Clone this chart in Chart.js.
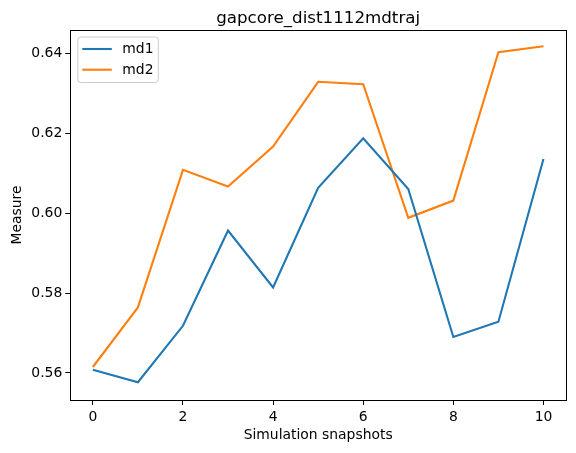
<!DOCTYPE html>
<html>
<head>
<meta charset="utf-8">
<script src="https://cdn.jsdelivr.net/npm/chart.js@4.4.0/dist/chart.umd.min.js"></script>
<style>
  html, body { margin: 0; padding: 0; background: #fff; }
  #wrap { width: 576px; height: 453px; }
</style>
</head>
<body>
<div id="wrap"><canvas id="myLineChart" width="576" height="453"></canvas></div>
<script>
// snapshot index on x
var snapshots = [0, 1, 2, 3, 4, 5, 6, 7, 8, 9, 10];
// values
var md1 = [0.5608, 0.5577, 0.5718, 0.5956, 0.5814, 0.6063, 0.6187, 0.6060, 0.5690, 0.5728, 0.6135];
var md2 = [0.5615, 0.5764, 0.6108, 0.6066, 0.6166, 0.6328, 0.6322, 0.5988, 0.6031, 0.6402, 0.6417];
var yTicks = [0.56, 0.58, 0.60, 0.62, 0.64];
var xTicks = [0, 2, 4, 6, 8, 10];
var seriesNames = ['md1', 'md2'];
var seriesColors = ['#1f77b4', '#ff7f0e'];
var chartTitle = 'gapcore_dist1112mdtraj';

var FONT = "'DejaVu Sans', sans-serif";

function toPoints(ys) {
    return ys.map(function (y, i) { return { x: snapshots[i], y: y }; });
}

// title + legend box drawn the matplotlib way
var decorPlugin = {
    id: 'decor',
    afterDraw: function (chart) {
        var ctx = chart.ctx;
        var area = chart.chartArea;
        ctx.save();
        // frame
        ctx.strokeStyle = '#000';
        ctx.lineWidth = 1;
        ctx.strokeRect(Math.round(area.left) + 0.5, Math.round(area.top) + 0.5,
            Math.round(area.right - area.left), Math.round(area.bottom - area.top));

        // title
        ctx.fillStyle = '#000';
        ctx.font = '16.7px ' + FONT;
        ctx.textAlign = 'center';
        ctx.textBaseline = 'alphabetic';
        ctx.fillText(chartTitle, (area.left + area.right) / 2, 22.5);

        // legend
        var bx = area.left + 7.5, by = area.top + 7, bw = 80.5, bh = 45.5, r = 3;
        ctx.beginPath();
        ctx.moveTo(bx + r, by);
        ctx.lineTo(bx + bw - r, by);
        ctx.quadraticCurveTo(bx + bw, by, bx + bw, by + r);
        ctx.lineTo(bx + bw, by + bh - r);
        ctx.quadraticCurveTo(bx + bw, by + bh, bx + bw - r, by + bh);
        ctx.lineTo(bx + r, by + bh);
        ctx.quadraticCurveTo(bx, by + bh, bx, by + bh - r);
        ctx.lineTo(bx, by + r);
        ctx.quadraticCurveTo(bx, by, bx + r, by);
        ctx.closePath();
        ctx.fillStyle = 'rgba(255,255,255,0.8)';
        ctx.fill();
        ctx.strokeStyle = '#cccccc';
        ctx.stroke();

        ctx.font = '13.9px ' + FONT;
        ctx.textAlign = 'left';
        ctx.textBaseline = 'middle';
        for (var i = 0; i < seriesNames.length; i++) {
            var ly = by + 12 + i * 20.7;
            ctx.strokeStyle = seriesColors[i];
            ctx.lineWidth = 2.1;
            ctx.beginPath();
            ctx.moveTo(bx + 4.5, ly);
            ctx.lineTo(bx + 34, ly);
            ctx.stroke();
            ctx.fillStyle = '#000';
            ctx.fillText(seriesNames[i], bx + 44.5, ly + 0.5);
        }
        ctx.restore();
    }
};

var ctx = document.getElementById('myLineChart').getContext('2d');

var data = {
    datasets: seriesNames.map(function (name, i) {
        return {
            label: name,
            data: toPoints(i === 0 ? md1 : md2),
            borderColor: seriesColors[i],
            backgroundColor: seriesColors[i],
            borderWidth: 2.1,
            pointRadius: 0,
            fill: false,
            tension: 0
        };
    })
};

var options = {
    responsive: false,
    animation: false,
    devicePixelRatio: 1,
    layout: { padding: { top: 30, right: 10, left: 0, bottom: 0 } },
    plugins: {
        legend: { display: false },
        tooltip: { enabled: false },
        title: { display: false }
    },
    scales: {
        x: {
            type: 'linear',
            min: -0.5,
            max: 10.5,
            afterBuildTicks: function (scale) {
                scale.ticks = xTicks.map(function (v) { return { value: v }; });
            },
            afterFit: function (scale) { scale.height = 53; },
            border: { display: false },
            grid: { drawOnChartArea: false, tickLength: 5, tickColor: '#000', tickWidth: 1 },
            ticks: {
                color: '#000',
                padding: 4,
                maxRotation: 0,
                autoSkip: false,
                font: { family: FONT, size: 13.9 }
            },
            title: {
                display: true,
                text: 'Simulation snapshots',
                color: '#000',
                padding: { top: 0, bottom: 9.5 },
                font: { family: FONT, size: 13.9 }
            }
        },
        y: {
            min: 0.55325,
            max: 0.64575,
            afterBuildTicks: function (scale) {
                scale.ticks = yTicks.map(function (v) { return { value: v }; });
            },
            afterFit: function (scale) { scale.width = 70.3; },
            border: { display: false },
            grid: { drawOnChartArea: false, tickLength: 5, tickColor: '#000', tickWidth: 1 },
            ticks: {
                color: '#000',
                padding: 3,
                autoSkip: false,
                font: { family: FONT, size: 13.9 },
                callback: function (v) { return v.toFixed(2); }
            },
            title: {
                display: true,
                text: 'Measure',
                color: '#000',
                padding: { top: 9, bottom: 0 },
                font: { family: FONT, size: 13.9 }
            }
        }
    }
};

var myLineChart = new Chart(ctx, {
    type: 'line',
    data: data,
    options: options,
    plugins: [decorPlugin]
});
</script>
</body>
</html>
